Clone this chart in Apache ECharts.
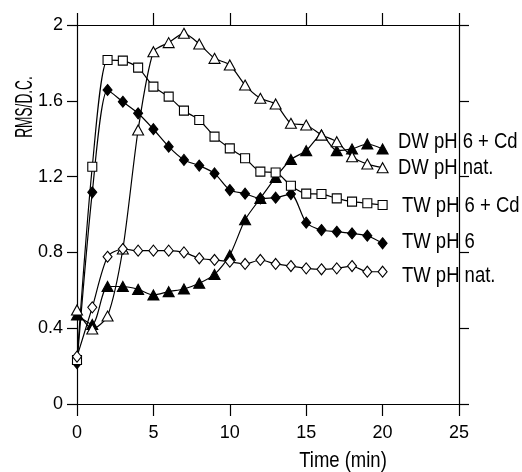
<!DOCTYPE html>
<html lang="en">
<head>
    <meta charset="UTF-8">
    <title>RMS/D.C.</title>
    <script src="https://cdn.jsdelivr.net/npm/echarts@6/dist/echarts.min.js"></script>
</head>
<body style="margin: 0">
<div id="main" style="width: 522px;height: 472px"></div>
<script>
    // time axis (min)
    const time = [0, 1, 2, 3, 4, 5, 6, 7, 8, 9, 10, 11, 12, 13, 14, 15, 16, 17, 18, 19, 20];

    // series values
    const dwCd = [0.47, 0.42, 0.62, 0.62, 0.605, 0.575, 0.593, 0.607, 0.637, 0.684, 0.785, 0.972, 1.085, 1.196, 1.29, 1.337, 1.42, 1.337, 1.346, 1.372, 1.346];
    const dwNat = [0.496, 0.396, 0.464, 0.818, 1.446, 1.859, 1.907, 1.956, 1.9, 1.824, 1.789, 1.683, 1.613, 1.583, 1.481, 1.472, 1.42, 1.384, 1.305, 1.266, 1.247];
    const twCd = [0.232, 1.252, 1.815, 1.812, 1.775, 1.675, 1.622, 1.548, 1.499, 1.411, 1.349, 1.297, 1.226, 1.222, 1.152, 1.11, 1.108, 1.085, 1.068, 1.059, 1.05];
    const tw6 = [0.215, 1.117, 1.657, 1.595, 1.534, 1.45, 1.358, 1.288, 1.258, 1.217, 1.129, 1.11, 1.085, 1.089, 1.108, 0.957, 0.918, 0.909, 0.9, 0.888, 0.848];
    const twNat = [0.25, 0.51, 0.777, 0.818, 0.809, 0.809, 0.809, 0.8, 0.769, 0.76, 0.751, 0.739, 0.76, 0.739, 0.728, 0.716, 0.711, 0.716, 0.728, 0.698, 0.698];

    const xTicks = [0, 5, 10, 15, 20, 25];
    const yTicks = [0, 0.4, 0.8, 1.2, 1.6, 2];

    // no narrow font installed, so the big texts get squeezed with scaleX
    const font = "'Liberation Sans', Arial, sans-serif";

    function pairs(ys) {
        return time.map((t, i) => [t, ys[i]]);
    }

    function makeSeries(name, ys, symbol, size, filled) {
        return {
            name: name,
            type: 'line',
            data: pairs(ys),
            smooth: 0.25,
            symbol: symbol,
            symbolSize: size,
            showAllSymbol: true,
            lineStyle: {color: '#000', width: 1.2},
            itemStyle: {
                color: filled ? '#000' : '#fff',
                borderColor: '#000',
                borderWidth: 1.1
            },
            z: filled ? 3 : 4
        };
    }

    function label(text, x, y, align) {
        return {
            type: 'text', x: x, y: y, scaleX: 0.84,
            style: {text: text, font: '22px ' + font, fill: '#000', textAlign: align, textVerticalAlign: 'middle'}
        };
    }

    const axisLine = {show: true, onZero: false, lineStyle: {color: '#000', width: 1.2}};
    const tickStyle = {color: '#000', width: 1.2};

    const chart = echarts.init(document.getElementById('main'));
    chart.setOption({
        animation: false,
        grid: {left: 77, right: 63, top: 25, bottom: 68},
        xAxis: [{
            type: 'value', position: 'bottom',
            min: xTicks[0], max: xTicks[xTicks.length - 1], interval: 5,
            axisLine: axisLine,
            axisTick: {show: true, inside: false, length: 12, lineStyle: tickStyle},
            axisLabel: {color: '#000', fontFamily: font, fontSize: 18, margin: 20},
            splitLine: {show: false}
        }, {
            type: 'value', position: 'top',
            min: xTicks[0], max: xTicks[xTicks.length - 1], interval: 5,
            axisLine: axisLine,
            axisTick: {show: true, inside: false, length: 12, lineStyle: tickStyle},
            axisLabel: {show: false},
            splitLine: {show: false}
        }],
        yAxis: [{
            type: 'value', position: 'left',
            min: yTicks[0], max: yTicks[yTicks.length - 1], interval: 0.4,
            axisLine: axisLine,
            axisTick: {show: true, inside: false, length: 10, lineStyle: tickStyle},
            axisLabel: {color: '#000', fontFamily: font, fontSize: 18, margin: 14},
            splitLine: {show: false}
        }, {
            type: 'value', position: 'right',
            min: yTicks[0], max: yTicks[yTicks.length - 1], interval: 0.4,
            axisLine: axisLine,
            axisTick: {show: true, inside: false, length: 10, lineStyle: tickStyle},
            axisLabel: {show: false},
            splitLine: {show: false}
        }],
        series: [
            makeSeries('DW pH 6 + Cd', dwCd, 'triangle', [11, 10], true),
            makeSeries('DW pH nat.', dwNat, 'triangle', [11, 10], false),
            makeSeries('TW pH 6 + Cd', twCd, 'rect', 9, false),
            makeSeries('TW pH 6', tw6, 'diamond', [9, 11], true),
            makeSeries('TW pH nat.', twNat, 'diamond', [9, 11], false)
        ],
        graphic: [
            label('DW pH 6 + Cd', 398, 142, 'left'),
            label('DW pH nat.', 398, 168, 'left'),
            label('TW pH 6 + Cd', 402, 206, 'left'),
            label('TW pH 6', 402, 242, 'left'),
            label('TW pH nat.', 402, 276, 'left'),
            label('Time (min)', 343, 461, 'center'),
            {type: 'text', x: 25, y: 107, rotation: Math.PI / 2, scaleX: 0.57,
                style: {text: 'RMS/D.C.', font: '24px ' + font, fill: '#000', textAlign: 'center', textVerticalAlign: 'middle'}}
        ]
    });
</script>
</body>
</html>
